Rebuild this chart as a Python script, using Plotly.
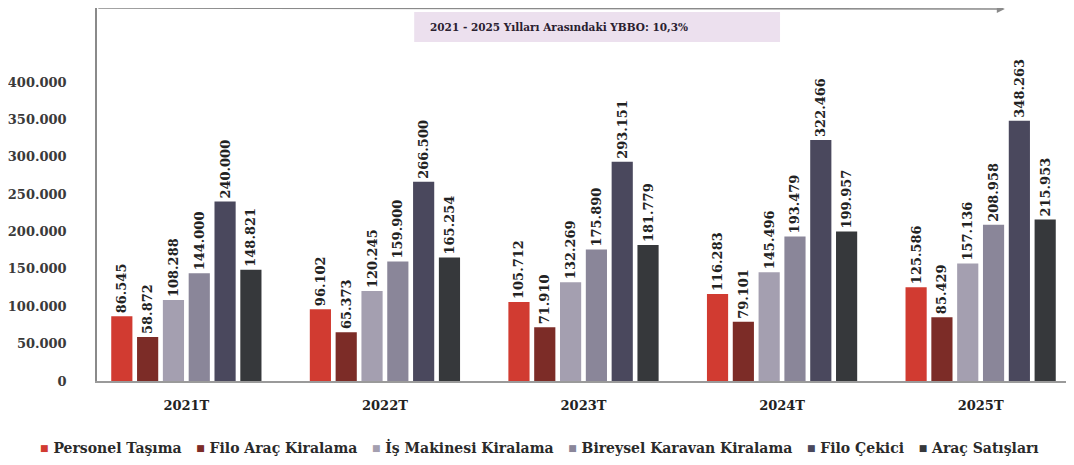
import plotly.graph_objects as go

years = ["2021T", "2022T", "2023T", "2024T", "2025T"]

series_names = [
    "Personel Taşıma",
    "Filo Araç Kiralama",
    "İş Makinesi Kiralama",
    "Bireysel Karavan Kiralama",
    "Filo Çekici",
    "Araç Satışları",
]

personel_tasima = [86545, 96102, 105712, 116283, 125586]
filo_arac_kiralama = [58872, 65373, 71910, 79101, 85429]
is_makinesi_kiralama = [108288, 120245, 132269, 145496, 157136]
bireysel_karavan = [144000, 159900, 175890, 193479, 208958]
filo_cekici = [240000, 266500, 293151, 322466, 348263]
arac_satislari = [148821, 165254, 181779, 199957, 215953]

y_ticks = [0, 50000, 100000, 150000, 200000, 250000, 300000, 350000, 400000]
cagr_text = "2021 - 2025 Yılları Arasındaki YBBO: 10,3%"

colors = ["#d13b31", "#7c2c27", "#a49fb0", "#8a8699", "#4a485d", "#36383b"]
values = [personel_tasima, filo_arac_kiralama, is_makinesi_kiralama,
          bireysel_karavan, filo_cekici, arac_satislari]

FONT = "DejaVu Serif"

fig = go.Figure()
for name, vals, col in zip(series_names, values, colors):
    fig.add_trace(go.Bar(
        x=years, y=vals, name=name, marker_color=col, marker_line_width=0,
        text=vals, texttemplate="%{y:,}", textposition="outside", textangle=-90,
        constraintext="none", cliponaxis=False, showlegend=False,
        textfont=dict(family=FONT, size=13, color="#222222", weight="bold"),
    ))

# legend line at the bottom (small squares close to the text, like the original)
nb = "\u00a0"
legend_items = [
    f'<span style="color:{col};font-size:9px;baseline-shift:2px">■</span>{nb}{name}'
    for name, col in zip(series_names, colors)
]
fig.add_annotation(
    x=0.455, y=-0.177, xref="paper", yref="paper",
    text=(nb * 3).join(legend_items), showarrow=False,
    xanchor="center", yanchor="middle",
    font=dict(family=FONT, size=14, color="#2a2a2a", weight="bold"),
)

# top arrow line
fig.add_annotation(
    x=0.933, y=1.0, xref="paper", yref="paper", text="",
    showarrow=True, ax=-908, ay=0, arrowhead=2, arrowsize=1,
    arrowwidth=1.6, arrowcolor="#8a8a8a",
)

# CAGR box
fig.add_shape(type="rect", xref="paper", yref="paper",
              x0=0.326, x1=0.702, y0=0.909, y1=0.989,
              fillcolor="#ece0ee", line_width=0, layer="below")
fig.add_annotation(
    x=0.340, y=0.949, xref="paper", yref="paper", text=cagr_text,
    showarrow=False, xanchor="left", yanchor="middle",
    font=dict(family=FONT, size=10.5, color="#2a2030", weight="bold"),
)

# page body has an 8px margin, so the figure is offset; margins compensate
fig.update_layout(
    width=1074, height=465,
    margin=dict(l=89, r=12, t=0, b=92, autoexpand=False),
    plot_bgcolor="white", paper_bgcolor="white",
    barmode="group", bargap=0.22, bargroupgap=0.18,
    separators=",.", showlegend=False,
)

fig.update_xaxes(
    type="category", range=[-0.45, 4.45],
    showline=True, linecolor="#9a9a9a", linewidth=1.5,
    showgrid=False, ticks="", ticklabelstandoff=12,
    tickfont=dict(family=FONT, size=13, color="#222222", weight="bold"),
)
fig.update_yaxes(
    range=[0, 499000], tickvals=y_ticks, tickformat=",",
    showline=True, linecolor="#8a8a8a", linewidth=1.5,
    showgrid=False, zeroline=False, ticks="", ticklabelstandoff=26,
    tickfont=dict(family=FONT, size=13, color="#3a3a3a", weight="bold"),
)

fig.write_html("out.html")
